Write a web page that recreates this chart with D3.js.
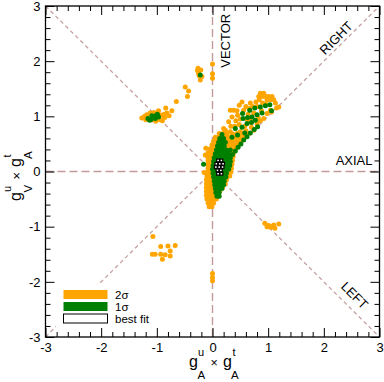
<!DOCTYPE html>
<html><head><meta charset="utf-8">
<script src="https://cdn.jsdelivr.net/npm/d3@7"></script>
<style>
body{margin:0;background:#fff;}
text{font-family:"Liberation Sans",Arial,Helvetica,sans-serif;}
</style></head>
<body><svg id="c" width="384" height="382"></svg>
<script>
// ---------- data ----------
const majorTicks = [-3,-2,-1,0,1,2,3];
const minorTicks = d3.range(-15,16).map(i=>i/5).filter(v=>Math.abs(v-Math.round(v))>1e-6);

const orangeIslands = [
 [-0.26,1.87],[-0.27,1.83],[-0.25,1.78],[-0.24,1.74],[-0.21,1.84],[-0.19,1.72],[-0.22,1.66],
 [0,1.95],[0,1.77],[0,1.69],
 [-0.49,1.53],[-0.43,1.46],[-0.45,1.36],[-0.65,1.27],[-0.84,1.15],[-0.73,1.10],
 [-1.27,0.97],[-1.22,1.0],[-1.18,1.03],[-1.12,1.06],[-1.05,1.07],[-0.98,1.05],[-0.92,1.02],[-0.87,1.04],
 [-0.82,1.06],[-0.86,0.98],[-0.95,0.94],[-1.02,0.91],[-1.08,0.94],[-1.2,0.94],[-0.78,1.01],[-0.9,0.92],[-0.97,1.1],
 [-1.07,-1.18],[-1.08,-1.5],[-1.03,-1.5],[-0.93,-1.36],[-0.80,-1.35],[-0.67,-1.34],[-0.76,-1.44],
 [-0.93,-1.50],[-0.85,-1.51],[-0.76,-1.53],[-0.90,-1.59],
 [0.94,-0.94],[0.98,-1.0],[1.04,-1.01],[1.10,-0.97],[1.12,-1.03],[1.19,-0.95],[1.01,-0.98],[1.07,-1.0],
 [0,-1.85],[0,-1.92],[0,-1.98],
 [-0.15,-0.02],[-0.13,0.3],[-0.12,0.42]
];
const orangeCore = [
 [-0.06,-0.64],[-0.01,-0.64],
 [-0.08,-0.57],[-0.03,-0.57],[0.02,-0.57],
 [-0.10,-0.50],[-0.04,-0.50],[0.02,-0.50],[0.07,-0.50],
 [-0.11,-0.43],[-0.05,-0.43],[0.01,-0.43],[0.07,-0.43],[0.11,-0.43],
 [-0.11,-0.36],[-0.05,-0.36],[0.01,-0.36],[0.07,-0.36],[0.13,-0.36],
 [-0.11,-0.29],[-0.05,-0.29],[0.01,-0.29],[0.07,-0.29],[0.13,-0.29],[0.18,-0.29],
 [-0.11,-0.22],[-0.05,-0.22],[0.01,-0.22],[0.07,-0.22],[0.13,-0.22],[0.19,-0.22],[0.23,-0.22],
 [-0.11,-0.15],[-0.05,-0.15],[0.01,-0.15],[0.07,-0.15],[0.13,-0.15],[0.19,-0.15],[0.25,-0.15],
 [-0.10,-0.08],[-0.04,-0.08],[0.02,-0.08],[0.08,-0.08],[0.14,-0.08],[0.20,-0.08],[0.26,-0.08],[0.31,-0.08],
 [-0.09,-0.01],[-0.03,-0.01],[0.03,-0.01],[0.09,-0.01],[0.15,-0.01],[0.21,-0.01],[0.27,-0.01],[0.33,-0.01],
 [-0.08,0.06],[-0.02,0.06],[0.04,0.06],[0.10,0.06],[0.16,0.06],[0.22,0.06],[0.28,0.06],[0.34,0.06],
 [-0.08,0.13],[-0.02,0.13],[0.04,0.13],[0.10,0.13],[0.16,0.13],[0.22,0.13],[0.28,0.13],[0.35,0.13],
 [-0.08,0.20],[-0.02,0.20],[0.04,0.20],[0.10,0.20],[0.16,0.20],[0.22,0.20],[0.28,0.20],[0.36,0.20],
 [-0.09,0.27],[-0.03,0.27],[0.03,0.27],[0.09,0.27],[0.15,0.27],[0.21,0.27],[0.28,0.27],[0.37,0.27],
 [-0.08,0.34],[-0.02,0.34],[0.04,0.34],[0.10,0.34],[0.16,0.34],[0.22,0.34],[0.30,0.34],[0.38,0.34],
 [-0.05,0.41],[0.01,0.41],[0.07,0.41],[0.13,0.41],[0.19,0.41],[0.26,0.41],[0.33,0.41],[0.40,0.41],
 [-0.01,0.48],[0.05,0.48],[0.11,0.48],[0.17,0.48],[0.24,0.48],[0.31,0.48],[0.38,0.48],[0.45,0.48],
 [0.02,0.55],[0.08,0.55],[0.14,0.55],[0.21,0.55],[0.28,0.55],[0.35,0.55],[0.43,0.55],[0.50,0.55],
 [0.05,0.62],[0.11,0.62],[0.18,0.62],[0.25,0.62],[0.32,0.62],[0.40,0.62],[0.48,0.62],[0.56,0.62],
 [0.12,0.69],[0.19,0.69],[0.26,0.69],[0.44,0.69],[0.52,0.69],[0.60,0.69]
];
const orangeBand = [
 [0.20,0.78],[0.23,0.75],[0.29,0.90],[0.33,0.82],[0.32,0.72],[0.35,0.99],[0.38,1.11],[0.32,1.11],
 [0.42,0.92],[0.45,1.02],[0.48,0.85],[0.44,1.10],[0.48,1.20],[0.53,1.26],[0.56,1.11],[0.60,1.18],
 [0.64,1.04],[0.66,1.14],[0.68,1.24],[0.72,1.18],[0.78,1.26],[0.84,1.30],[0.86,1.42],[0.83,1.36],
 [0.90,1.36],[0.92,1.42],[0.96,1.36],[0.98,1.30],[1.01,1.36],[1.05,1.30],[1.07,1.36],[1.10,1.30],
 [1.13,1.24],[1.19,1.17],[1.15,1.15],[1.06,1.08],[1.04,1.11],[0.98,1.05],[0.92,0.96],[0.86,0.92],
 [0.80,0.87],[0.74,0.75],[0.65,0.69],[0.60,0.74],[0.53,0.57],[0.47,0.66],[0.41,0.42],[0.35,0.55],
 [0.35,0.27],[0.30,0.62],[0.44,0.50],[0.50,0.72],[0.58,0.82],[0.68,0.92],[0.74,1.06],[0.80,1.18],
 [0.90,1.24],[0.96,1.22],[0.88,1.10],[0.82,0.98],[0.70,0.80],[0.62,0.95],[0.50,0.95],[0.40,0.82],[0.36,0.68]
];
const greenIslands = [
 [-0.22,1.75],
 [-1.16,0.96],[-1.11,0.94],[-1.06,0.99],[-1.01,1.02],[-0.97,0.99],[-1.09,1.01],[-1.13,0.93],[-1.03,0.96],[-0.99,1.04],
 [-0.16,0.13]
];
const greenCore = [
 [0.08,-0.45],[0.12,-0.45],
 [0.06,-0.38],[0.12,-0.38],
 [0.05,-0.31],[0.11,-0.31],[0.17,-0.31],
 [0.04,-0.24],[0.10,-0.24],[0.16,-0.24],[0.20,-0.24],
 [0.03,-0.17],[0.09,-0.17],[0.15,-0.17],[0.21,-0.17],
 [0.02,-0.10],[0.08,-0.10],[0.14,-0.10],[0.20,-0.10],[0.24,-0.10],
 [0.01,-0.03],[0.07,-0.03],[0.13,-0.03],[0.19,-0.03],[0.25,-0.03],
 [0.0,0.04],[0.06,0.04],[0.12,0.04],[0.18,0.04],[0.24,0.04],[0.29,0.04],
 [0.01,0.11],[0.07,0.11],[0.13,0.11],[0.19,0.11],[0.25,0.11],[0.31,0.11],
 [0.02,0.18],[0.08,0.18],[0.14,0.18],[0.20,0.18],[0.26,0.18],[0.32,0.18],
 [0.03,0.25],[0.09,0.25],[0.15,0.25],[0.21,0.25],[0.27,0.25],[0.32,0.25],
 [0.05,0.32],[0.11,0.32],[0.17,0.32],[0.23,0.32],[0.29,0.32],
 [0.07,0.39],[0.13,0.39],[0.19,0.39],[0.25,0.39],[0.32,0.39],
 [0.09,0.46],[0.15,0.46],[0.21,0.46],
 [0.11,0.53],[0.17,0.53],[0.23,0.53],
 [0.13,0.60],[0.20,0.60],
 [0.17,0.67],
 [0.30,0.24],[0.36,0.31],[0.41,0.37],[0.46,0.44],[0.51,0.50],[0.56,0.57],[0.62,0.63],[0.68,0.70],[0.75,0.76],[0.81,0.81]
];
const greenBand = [
 [1.03,1.21],[0.95,1.19],[0.86,1.17],[0.76,1.15],[0.67,1.11],[0.54,1.05],
 [0.55,0.96],[0.63,0.98],[0.71,0.99],[0.80,1.03],[0.89,1.06],[1.06,1.10],
 [0.41,0.78],[0.53,0.80],[0.62,0.87],[0.70,0.89],[0.77,0.93],
 [0.35,0.62],[0.45,0.66],[0.58,0.70]
];
const bestFit = [
 [0.10,0.20],[0.16,0.20],
 [0.07,0.14],[0.13,0.14],[0.19,0.14],
 [0.06,0.08],[0.12,0.08],[0.18,0.08],
 [0.09,0.02],[0.15,0.02],
 [0.10,-0.04],[0.16,-0.04]
];
const refLines = [
 {name:"diag", p:[[-3,-3],[3,3]]},
 {name:"diag", p:[[-3,3],[3,-3]]},
 {name:"axis", p:[[-3,0],[3,0]]},
 {name:"axis", p:[[0,-3],[0,3]]}
];
const legendItems = ["2σ","1σ","best fit"];

// ---------- drawing ----------
const svg = d3.select("#c");
const L=45.5, R=379.5, T=6, B=337;
const x = d3.scaleLinear().domain([-3,3]).range([L,R]);
const y = d3.scaleLinear().domain([-3,3]).range([B,T]);

svg.append("defs").append("clipPath").attr("id","clip")
  .append("rect").attr("x",L).attr("y",T).attr("width",R-L).attr("height",B-T);

const plot = svg.append("g").attr("clip-path","url(#clip)");
const line = d3.line().x(d=>x(d[0])).y(d=>y(d[1]));
plot.selectAll("path.ref").data(refLines).join("path")
  .attr("d",d=>line(d.p)).attr("fill","none")
  .attr("stroke",d=>d.name==="axis"?"#c29a9a":"#c6a2a2")
  .attr("stroke-width",d=>d.name==="axis"?1.4:1.3)
  .attr("stroke-dasharray",d=>d.name==="axis"?"8,4":"4,3");

// white patch behind legend
svg.append("rect").attr("x",56).attr("y",285).attr("width",92).attr("height",42).attr("fill","#fff");

const r = 2.5;
const orange="#ffa500", green="#008000";
const allOrange = orangeIslands.concat(orangeCore, orangeBand);
const allGreen = greenIslands.concat(greenCore, greenBand);
plot.append("g").selectAll("circle").data(allOrange).join("circle")
  .attr("cx",d=>x(d[0])).attr("cy",d=>y(d[1])).attr("r",r).attr("fill",orange);
plot.append("g").selectAll("circle").data(allGreen).join("circle")
  .attr("cx",d=>x(d[0])).attr("cy",d=>y(d[1])).attr("r",r).attr("fill",green);
plot.append("g").selectAll("rect").data(bestFit).join("rect")
  .attr("x",d=>x(d[0])-1.4).attr("y",d=>y(d[1])-1.4).attr("width",2.8).attr("height",2.8)
  .attr("fill","#fff").attr("stroke","#000").attr("stroke-width",1.2);

// axes
function styleAxis(g){ g.select(".domain").remove(); g.selectAll("line").attr("stroke","#000"); g.selectAll("text").attr("font-size",13).attr("fill","#000"); }
svg.append("g").attr("transform",`translate(0,${B})`)
  .call(d3.axisBottom(x).tickValues(majorTicks).tickSize(-9).tickPadding(6).tickFormat(d=>String(d))).call(styleAxis);
svg.append("g").attr("transform",`translate(0,${B})`)
  .call(d3.axisBottom(x).tickValues(minorTicks).tickSize(-5).tickFormat("")).call(styleAxis);
svg.append("g").attr("transform",`translate(0,${T})`)
  .call(d3.axisTop(x).tickValues(majorTicks).tickSize(-9).tickFormat("")).call(styleAxis);
svg.append("g").attr("transform",`translate(0,${T})`)
  .call(d3.axisTop(x).tickValues(minorTicks).tickSize(-5).tickFormat("")).call(styleAxis);
svg.append("g").attr("transform",`translate(${L},0)`)
  .call(d3.axisLeft(y).tickValues(majorTicks).tickSize(-9).tickPadding(5).tickFormat(d=>String(d))).call(styleAxis);
svg.append("g").attr("transform",`translate(${L},0)`)
  .call(d3.axisLeft(y).tickValues(minorTicks).tickSize(-5).tickFormat("")).call(styleAxis);
svg.append("g").attr("transform",`translate(${R},0)`)
  .call(d3.axisRight(y).tickValues(majorTicks).tickSize(-9).tickFormat("")).call(styleAxis);
svg.append("g").attr("transform",`translate(${R},0)`)
  .call(d3.axisRight(y).tickValues(minorTicks).tickSize(-5).tickFormat("")).call(styleAxis);
svg.append("rect").attr("x",L).attr("y",T).attr("width",R-L).attr("height",B-T)
  .attr("fill","none").attr("stroke","#000").attr("stroke-width",1.3);

// region labels
const lab = svg.append("g").attr("font-size",13).attr("fill","#000");
lab.append("text").text("VECTOR").attr("text-anchor","middle")
  .attr("transform",`translate(${x(0)+17.5},${y(2.37)}) rotate(-90)`);
lab.append("text").text("AXIAL").attr("text-anchor","end").attr("x",372.5).attr("y",165);
lab.append("text").text("RIGHT").attr("text-anchor","middle")
  .attr("transform",`translate(${x(2.32)-5.5},${y(2.32)-5.5}) rotate(-45) translate(0,4.5)`);
lab.append("text").text("LEFT").attr("text-anchor","middle")
  .attr("transform",`translate(${x(2.4)+8.5},${y(-2.4)-8.5}) rotate(45) translate(0,4.5)`);

// axis titles
function title(g, parts){
  parts.forEach(p=>g.append("text").attr("x",p[1]).attr("y",p[2]).attr("font-size",p[3]).text(p[0]));
}
const xt = svg.append("g").attr("transform","translate(189,367)");
title(xt, [["g",0,0,16],["u",9,-11,11],["A",8.5,12,11.5],["×",21.5,0,12.5],["g",34,0,16],["t",43.5,-11,11],["A",42,12,11.5]]);
const yt = svg.append("g").attr("transform","translate(21,201) rotate(-90)");
title(yt, [["g",0,0,16],["u",9,-10,11],["V",8.5,11,11.5],["×",21.5,0,12.5],["g",34,0,16],["t",43.5,-10,11],["A",42,11,11.5]]);

// legend
const lg = svg.append("g");
const colors=[orange,green,"#fff"];
lg.selectAll("rect").data(legendItems).join("rect")
  .attr("x",63.5).attr("y",(d,i)=>290+i*12).attr("width",44).attr("height",9)
  .attr("fill",(d,i)=>colors[i]).attr("stroke",(d,i)=>i===2?"#000":"none").attr("stroke-width",1);
lg.selectAll("text").data(legendItems).join("text")
  .attr("x",115).attr("y",(d,i)=>299+i*12).attr("font-size",11.5).text(d=>d);
</script></body></html>
